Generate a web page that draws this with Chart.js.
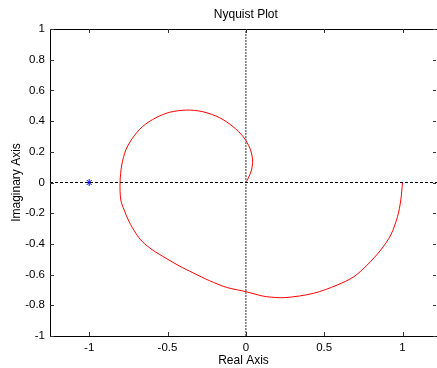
<!DOCTYPE html>
<html>
<head>
<meta charset="utf-8">
<script src="https://cdn.jsdelivr.net/npm/chart.js@4.4.0/dist/chart.umd.min.js"></script>
<style>
  html, body { margin: 0; padding: 0; background: #fff; overflow: hidden; }
  #nyquistChart { display: block; }
</style>
</head>
<body>
<canvas id="nyquistChart" width="437" height="368"></canvas>
<script>
// Nyquist curve (starts at 1+0j, ends at the origin)
const realPart = [1.0, 0.989, 0.968, 0.925, 0.861, 0.775, 0.689, 0.583, 0.432, 0.25,
  0.133, 0.079, 0, -0.124, -0.231, -0.338, -0.424, -0.509, -0.595, -0.66,
  -0.702, -0.745, -0.777, -0.798, -0.803, -0.792, -0.766, -0.724, -0.66, -0.574,
  -0.488, -0.381, -0.274, -0.167, -0.082, -0.017, 0.026, 0.043, 0.036, 0.015, 0];
const imagPart = [0, -0.114, -0.223, -0.342, -0.44, -0.537, -0.614, -0.668, -0.722, -0.75,
  -0.744, -0.733, -0.711, -0.683, -0.64, -0.588, -0.544, -0.494, -0.44, -0.386,
  -0.331, -0.255, -0.179, -0.114, 0, 0.114, 0.212, 0.288, 0.364, 0.422,
  0.457, 0.472, 0.461, 0.422, 0.364, 0.298, 0.223, 0.147, 0.081, 0.027, 0];

// critical point -1+0j
const criticalReal = [-1];
const criticalImag = [0];

// visible window: the plot box is cut off just past 1.22 on the right
const xRange = [-1.25, 1.22];
const yRange = [-1, 1];
const xTicks = [-1, -0.5, 0, 0.5, 1];
const yTicks = [-1, -0.8, -0.6, -0.4, -0.2, 0, 0.2, 0.4, 0.6, 0.8, 1];

const toPoints = (xs, ys) => xs.map((x, i) => ({ x: x, y: ys[i] }));

const tickFont = { family: "'Liberation Sans', Arial, sans-serif", size: 11.5 };
const titleFont = { family: "'Liberation Sans', Arial, sans-serif", size: 12 };

// top line, inward ticks and the plot title (MATLAB look)
const framePlugin = {
  id: 'frame',
  afterDatasetsDraw(chart) {
    const { ctx, chartArea: a, scales } = chart;
    const len = 4;
    ctx.save();
    ctx.strokeStyle = '#000';
    ctx.lineWidth = 1;
    ctx.beginPath();
    ctx.moveTo(a.left, a.top + 0.5);
    ctx.lineTo(a.right, a.top + 0.5);
    ctx.stroke();

    ctx.strokeStyle = '#333';
    ctx.beginPath();
    xTicks.forEach(v => {
      const px = Math.round(scales.x.getPixelForValue(v)) + 0.5;
      ctx.moveTo(px, a.bottom); ctx.lineTo(px, a.bottom - len);
      ctx.moveTo(px, a.top); ctx.lineTo(px, a.top + len);
    });
    yTicks.forEach(v => {
      const py = Math.round(scales.y.getPixelForValue(v)) + 0.5;
      ctx.moveTo(a.left, py); ctx.lineTo(a.left + len, py);
      ctx.moveTo(a.right - 1, py); ctx.lineTo(a.right - 4, py);
    });
    ctx.stroke();

    ctx.fillStyle = '#000';
    ctx.font = "12px 'Liberation Sans', Arial, sans-serif";
    ctx.textAlign = 'center';
    ctx.textBaseline = 'middle';
    ctx.fillText('Nyquist Plot', scales.x.getPixelForValue(0), 15);
    ctx.restore();
  }
};

const ctx = document.getElementById('nyquistChart').getContext('2d');
const nyquistChart = new Chart(ctx, {
  type: 'scatter',
  data: {
    datasets: [
      {
        label: 'real axis',
        data: toPoints(xRange, [0, 0]),
        showLine: true,
        borderColor: '#000',
        borderWidth: 1,
        borderDash: [3, 2],
        pointRadius: 0
      },
      {
        label: 'imaginary axis',
        data: toPoints([0, 0], yRange),
        showLine: true,
        borderColor: '#777',
        borderWidth: 1.5,
        borderDash: [2, 1],
        pointRadius: 0
      },
      {
        label: 'G(jw)',
        data: toPoints(realPart, imagPart),
        showLine: true,
        borderColor: '#ff0000',
        borderWidth: 1,
        tension: 0.3,
        pointRadius: 0
      },
      {
        label: '-1',
        data: toPoints(criticalReal, criticalImag),
        pointStyle: 'star',
        pointRadius: 3.5,
        borderColor: '#0000ff',
        backgroundColor: '#0000ff',
        borderWidth: 1
      }
    ]
  },
  options: {
    responsive: false,
    animation: false,
    layout: { autoPadding: false, padding: { top: 29, left: 0, right: 0, bottom: 0 } },
    plugins: {
      legend: { display: false },
      tooltip: { enabled: false },
      title: { display: false }
    },
    scales: {
      x: {
        type: 'linear',
        min: xRange[0],
        max: xRange[1],
        afterBuildTicks: s => { s.ticks = xTicks.map(v => ({ value: v })); },
        afterFit: s => { s.height = 32; },
        grid: { display: false, drawTicks: false },
        border: { display: true, color: '#000', width: 1 },
        ticks: {
          color: '#000',
          font: tickFont,
          padding: 5,
          autoSkip: false,
          maxRotation: 0,
          callback: v => String(v)
        },
        title: {
          display: true,
          text: 'Real Axis',
          color: '#000',
          font: titleFont,
          padding: { top: 0, bottom: 0 }
        }
      },
      y: {
        type: 'linear',
        min: yRange[0],
        max: yRange[1],
        afterBuildTicks: s => { s.ticks = yTicks.map(v => ({ value: v })); },
        afterFit: s => { s.width = 50; },
        grid: { display: false, drawTicks: false },
        border: { display: true, color: '#000', width: 1 },
        ticks: {
          color: '#000',
          font: tickFont,
          padding: 5,
          autoSkip: false,
          callback: v => String(v)
        },
        title: {
          display: true,
          text: 'Imaginary Axis',
          color: '#000',
          font: titleFont,
          padding: { top: 9, bottom: 0 }
        }
      }
    }
  },
  plugins: [framePlugin]
});
</script>
</body>
</html>
